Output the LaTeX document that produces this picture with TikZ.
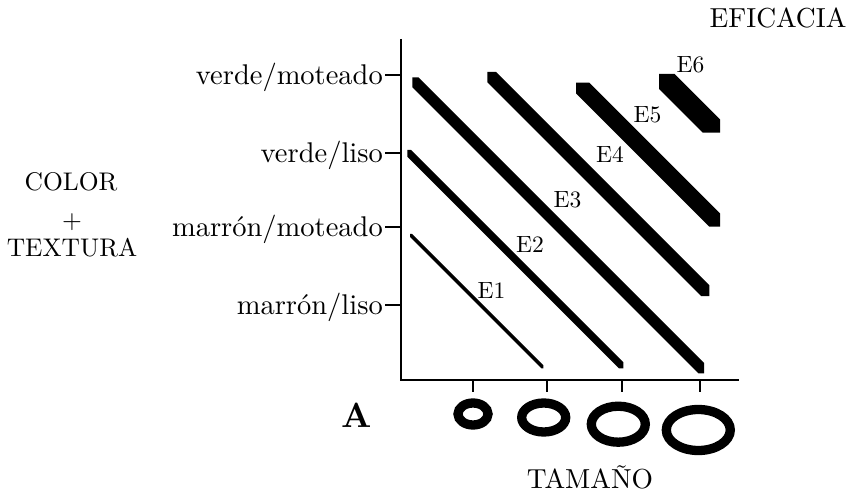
\documentclass[tikz,border=0pt]{standalone}
\usepackage{fontspec}
\setmainfont{lmroman10}[Extension=.otf, UprightFont=*-regular, BoldFont=*-bold, ItalicFont=*-italic]
\begin{document}
\begin{tikzpicture}[x=1pt,y=-1pt,
  lbl/.style={font=\fontsize{27.5}{32}\selectfont, inner sep=0pt},
  sidelbl/.style={font=\fontsize{25.5}{30}\selectfont, inner sep=0pt},
  ylbl/.style={font=\fontsize{28.5}{33}\selectfont, inner sep=0pt, anchor=base east},
  elbl/.style={font=\fontsize{23.5}{27}\selectfont, inner sep=0pt},
  axisline/.style={line width=2.7pt, line join=miter},
  tickline/.style={line width=2.4pt},
  band/.style={fill=black, draw=none},
  ring/.style={draw=black, line width=9.3pt}]
\useasboundingbox (0,0) rectangle (851,494);

% axes
\coordinate (ytop) at (401,39);
\coordinate (orig) at (401,380);
\coordinate (xend) at (739,380);
\draw[axisline] (ytop) -- (orig) -- (xend);

% y ticks and labels
\foreach \yy/\nm in {75/a,153/b,227/c,305/d}{
  \coordinate (yt\nm) at (385,\yy);
  \coordinate (ya\nm) at (401,\yy);
  \draw[tickline] (yt\nm) -- (ya\nm);
}
\node[ylbl] (lvm) at (383,84.5) {verde/moteado};
\node[ylbl] (lvl) at (383,162.5) {verde/liso};
\node[ylbl] (lmm) at (383,236.5) {marrón/moteado};
\node[ylbl] (lml) at (383,314.5) {marrón/liso};

% x ticks
\foreach \xx/\nm in {473/a,547/b,622/c,700/d}{
  \coordinate (xa\nm) at (\xx,380);
  \coordinate (xt\nm) at (\xx,392);
  \draw[tickline] (xa\nm) -- (xt\nm);
}

% bands
\fill[band] (410,234) -- (412,234) -- (543.3,365.3) -- (543.3,368.3) -- (541.3,368.3) -- (410,237) -- cycle;
\fill[band] (407.3,150) -- (411,150) -- (623.3,362.3) -- (623.3,368.3) -- (618.8,368.3) -- (407.3,156.8) -- cycle;
\fill[band] (412.3,77.3) -- (418.3,77.3) -- (704,363) -- (704,373.3) -- (698.3,373.3) -- (412.3,87.3) -- cycle;
\fill[band] (487.3,72) -- (496,72) -- (709.3,285.3) -- (709.3,296) -- (701,296) -- (487.3,82.3) -- cycle;
\fill[band] (576,82.7) -- (589.4,82.7) -- (720,213.3) -- (720,226.7) -- (709.4,226.7) -- (576,93.3) -- cycle;
\fill[band] (659,74) -- (674.5,74) -- (720,119.5) -- (720,132.7) -- (702.7,132.7) -- (659,89) -- cycle;

% band labels
\node[elbl] (e1) at (491.5,291) {E1};
\node[elbl] (e2) at (530,245) {E2};
\node[elbl] (e3) at (567.5,200) {E3};
\node[elbl] (e4) at (610,155) {E4};
\node[elbl] (e5) at (647.5,114.5) {E5};
\node[elbl] (e6) at (690.5,64.5) {E6};

% size rings
\draw[ring] (473,414) ellipse [x radius=15, y radius=11];
\draw[ring] (543.7,417.5) ellipse [x radius=22, y radius=14.5];
\draw[ring] (618.3,424.2) ellipse [x radius=27, y radius=18];
\draw[ring] (698.3,430) ellipse [x radius=32, y radius=20.5];

% titles
\node[lbl, anchor=base] (efi) at (778,28) {EFICACIA};
\node[sidelbl, anchor=base] (col) at (71,191) {COLOR};
\node[sidelbl] (plus) at (72,222) {+};
\node[sidelbl, anchor=base] (tex) at (72,257) {TEXTURA};
\node[lbl, anchor=base] (tam) at (590,488) {TAMAÑO};
\node[inner sep=0pt, anchor=base, font=\fontsize{35}{40}\selectfont\bfseries] (la) at (357,427) {A};
\end{tikzpicture}
\end{document}
